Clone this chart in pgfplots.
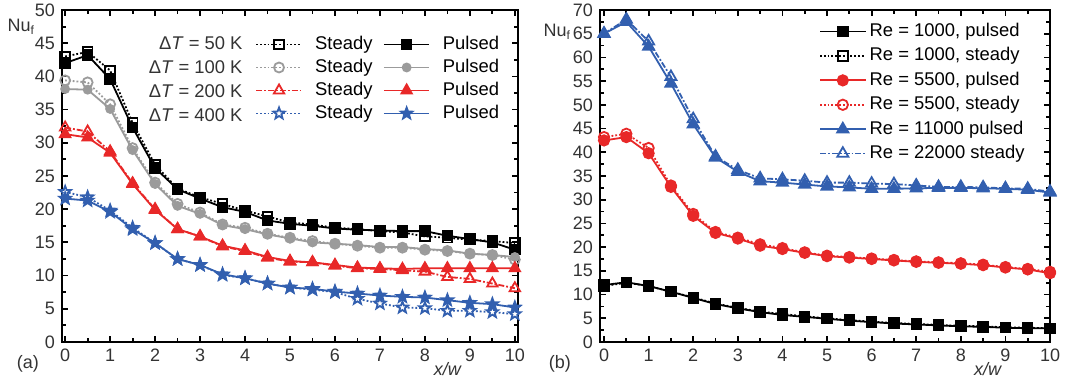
\documentclass[border=0pt]{standalone}
\usepackage{fontspec}
\setmainfont{Liberation Sans}
\usepackage{pgfplots}
\usepackage{pgfplotstable}
\pgfplotsset{compat=1.18}
\definecolor{cgray}{RGB}{155,155,155}
\definecolor{cred}{RGB}{232,40,40}
\definecolor{cblue}{RGB}{50,95,175}

\pgfdeclareplotmark{fstar}{%
  \pgfpathmoveto{\pgfpointpolar{90}{1.2\pgfplotmarksize}}%
  \pgfpathlineto{\pgfpointpolar{126}{0.5\pgfplotmarksize}}%
  \pgfpathlineto{\pgfpointpolar{162}{1.2\pgfplotmarksize}}%
  \pgfpathlineto{\pgfpointpolar{198}{0.5\pgfplotmarksize}}%
  \pgfpathlineto{\pgfpointpolar{234}{1.2\pgfplotmarksize}}%
  \pgfpathlineto{\pgfpointpolar{270}{0.5\pgfplotmarksize}}%
  \pgfpathlineto{\pgfpointpolar{306}{1.2\pgfplotmarksize}}%
  \pgfpathlineto{\pgfpointpolar{342}{0.5\pgfplotmarksize}}%
  \pgfpathlineto{\pgfpointpolar{18}{1.2\pgfplotmarksize}}%
  \pgfpathlineto{\pgfpointpolar{54}{0.5\pgfplotmarksize}}%
  \pgfpathclose
  \pgfusepathqfillstroke
}

\pgfplotstableread{
x    s50  p50  s100 p100 s200 p200 s400 p400
0    43.0 42.0 39.4 38.1 32.3 31.3 22.6 21.6
0.5  43.7 43.2 39.1 38.0 31.7 30.8 21.8 21.3
1    40.9 39.6 35.8 35.1 28.7 28.5 19.8 19.6
1.5  33.0 32.3 29.2 28.9 23.9 23.8 17.2 17.0
2    26.7 26.2 24.0 23.8 20.0 19.9 14.9 14.9
2.5  23.1 23.0 20.8 20.5 17.0 17.0 12.5 12.5
3    21.8 21.6 19.5 19.3 15.9 15.9 11.6 11.6
3.5  20.8 20.3 17.7 17.6 14.4 14.5 10.1 10.2
4    19.8 19.6 17.2 17.0 13.7 13.8 9.6  9.6
4.5  18.9 18.3 16.3 16.2 12.7 12.8 8.8  8.8
5    18.0 17.8 15.7 15.6 12.1 12.2 8.2  8.2
5.5  17.7 17.5 15.2 15.0 12.0 12.0 7.9  8.0
6    17.2 17.1 14.8 14.8 11.5 11.6 7.5  7.6
6.5  17.0 16.9 14.5 14.6 11.1 11.2 6.5  7.3
7    16.7 16.8 14.2 14.3 11.0 11.1 5.8  7.0
7.5  16.5 16.7 14.2 14.3 10.8 11.0 5.2  6.8
8    15.9 16.7 13.9 14.0 10.6 11.1 5.1  6.7
8.5  15.7 16.0 13.7 13.8 9.8  11.1 4.7  6.3
9    15.4 15.5 13.3 13.3 9.5  11.1 4.7  5.9
9.5  15.2 15.0 13.1 13.1 8.8  11.1 4.5  5.7
10   14.9 13.9 12.4 12.8 8.1  11.1 4.2  5.2
}\leftdata

\pgfplotstableread{
x    p1000 s1000 p5500 s5500 p11000 s22000
0    12.0  11.8  42.5  43.2  65.0   65.0
0.5  12.6  12.5  43.2  43.9  67.5   68.0
1    11.8  11.8  39.8  40.9  62.3   63.4
1.5  10.6  10.6  32.7  33.0  54.5   55.9
2    9.3   9.4   26.6  27.0  45.9   47.0
2.5  8.0   8.1   23.0  23.2  38.9   39.1
3    7.1   7.2   21.8  22.0  35.9   36.3
3.5  6.3   6.4   20.3  20.6  33.9   34.5
4    5.7   5.9   19.6  19.8  33.6   34.3
4.5  5.3   5.4   18.8  18.9  33.2   34.0
5    4.9   5.0   18.1  18.2  32.8   33.6
5.5  4.5   4.6   17.8  17.9  32.6   33.6
6    4.2   4.3   17.5  17.6  32.3   33.4
6.5  3.9   4.0   17.2  17.3  32.3   33.3
7    3.7   3.8   16.9  17.0  32.4   33.0
7.5  3.5   3.6   16.7  16.8  32.5   32.7
8    3.3   3.4   16.5  16.6  32.5   32.7
8.5  3.2   3.3   16.2  16.3  32.4   32.6
9    3.0   3.1   15.7  15.8  32.3   32.4
9.5  2.9   3.0   15.3  15.4  32.1   32.3
10   2.9   2.9   14.5  14.8  31.5   31.7
}\rightdata

\pgfplotsset{
  panel/.style={
    scale only axis, height=166pt, ymin=0,
    xtick={0,...,10}, minor x tick num=1, minor y tick num=1,
    tick align=inside, major tick length=3pt, minor tick length=2pt,
    axis line style={line width=1.2pt},
    tick style={black, line width=0.9pt},
    tick label style={font=\fontsize{9}{10}\selectfont, text=black!80},
    /pgf/number format/assume math mode=true,
    clip=false,
    legend cell align=left,
    legend style={draw=none, fill=none, font=\fontsize{9.2}{10}\selectfont,
      row sep=0pt},
    legend image code/.code={\draw[mark repeat=2,mark phase=2]
      plot coordinates {(0cm,0cm) (0.4cm,0cm) (0.8cm,0cm)};},
    every axis plot/.append style={line width=0.9pt},
  },
  open/.style={mark options={solid, fill=white, line width=0.9pt}},
  filled/.style={mark options={solid, line width=0.9pt}},
}

\begin{document}
\begin{tikzpicture}
\begin{axis}[panel, at={(31pt,18pt)}, width=228pt,
  xmin=-0.07, xmax=10.07, ymax=50, ytick={0,5,...,50},
  legend columns=2,
  legend style={at={(rel axis cs:0.978,0.944)}, anchor=north east,
    nodes={inner sep=1.25pt, text height=7pt, text depth=2pt},
    /tikz/every odd column/.append style={column sep=5pt},
    /tikz/every even column/.append style={column sep=4pt}},
]
\addplot[color=black, densely dotted, mark=square, mark size=2.4pt, open] table[y=s50] {\leftdata};
\addlegendentry{Steady}
\addplot[color=black, solid, mark=square*, mark size=2.4pt, filled] table[y=p50] {\leftdata};
\addlegendentry{Pulsed}
\addplot[color=cgray, densely dotted, mark=o, mark size=2.5pt, open] table[y=s100] {\leftdata};
\addlegendentry{Steady}
\addplot[color=cgray, solid, mark=*, mark size=2pt, filled] table[y=p100] {\leftdata};
\addlegendentry{Pulsed}
\addplot[color=cred, densely dashdotted, mark=triangle, mark size=3pt, open] table[y=s200] {\leftdata};
\addlegendentry{Steady}
\addplot[color=cred, solid, mark=triangle*, mark size=3pt, filled] table[y=p200] {\leftdata};
\addlegendentry{Pulsed}
\addplot[color=cblue, densely dotted, mark=fstar, mark size=2.5pt, open] table[y=s400] {\leftdata};
\addlegendentry{Steady}
\addplot[color=cblue, solid, mark=fstar, mark size=2.5pt, filled] table[y=p400] {\leftdata};
\addlegendentry{Pulsed}
\node[anchor=east, font=\fontsize{9.2}{10}\selectfont, text=black!80] at (axis cs:4.1,45.0) {Δ\textit{T} = 50 K};
\node[anchor=east, font=\fontsize{9.2}{10}\selectfont, text=black!80] at (axis cs:4.1,41.4) {Δ\textit{T} = 100 K};
\node[anchor=east, font=\fontsize{9.2}{10}\selectfont, text=black!80] at (axis cs:4.1,37.8) {Δ\textit{T} = 200 K};
\node[anchor=east, font=\fontsize{9.2}{10}\selectfont, text=black!80] at (axis cs:4.1,34.2) {Δ\textit{T} = 400 K};
\node[anchor=east, font=\fontsize{9}{10}\selectfont, text=black!80] at (rel axis cs:0,0.949) [xshift=-10pt] {Nu\textsubscript{f}};
\node[anchor=north east, font=\fontsize{9}{10}\selectfont, text=black!80] at (rel axis cs:0,0) [xshift=-8pt, yshift=-3pt] {(a)};
\node[anchor=north, inner sep=0pt, font=\fontsize{9}{10}\selectfont\itshape, text=black!80] at (axis cs:8.5,0) [yshift=-10pt] {x/w};
\end{axis}

\begin{axis}[panel, at={(300pt,18pt)}, width=225pt,
  xmin=-0.09, xmax=10, ymax=70, ytick={0,5,...,70},
  legend style={at={(rel axis cs:0.965,0.985)}, anchor=north east,
    nodes={inner sep=1.6pt, text height=7pt, text depth=2pt}},
]
\addplot[color=black, solid, mark=square*, mark size=2.4pt, filled] table[y=p1000] {\rightdata};
\addlegendentry{Re = 1000, pulsed}
\addplot[color=black, densely dotted, mark=square, mark size=2.4pt, open] table[y=s1000] {\rightdata};
\addlegendentry{Re = 1000, steady}
\addplot[color=cred, solid, mark=*, mark size=2.6pt, filled] table[y=p5500] {\rightdata};
\addlegendentry{Re = 5500, pulsed}
\addplot[color=cred, densely dotted, mark=o, mark size=2.6pt, open] table[y=s5500] {\rightdata};
\addlegendentry{Re = 5500, steady}
\addplot[color=cblue, solid, mark=triangle*, mark size=3.2pt, filled] table[y=p11000] {\rightdata};
\addlegendentry{Re = 11000 pulsed}
\addplot[color=cblue, densely dashdotted, mark=triangle, mark size=3.2pt, open] table[y=s22000] {\rightdata};
\addlegendentry{Re = 22000 steady}
\node[anchor=east, font=\fontsize{9}{10}\selectfont, text=black!80] at (rel axis cs:0,0.934) [xshift=-11pt] {Nu\textsubscript{f}};
\node[anchor=north east, font=\fontsize{9}{10}\selectfont, text=black!80] at (rel axis cs:0,0) [xshift=-11pt, yshift=-3pt] {(b)};
\node[anchor=north, inner sep=0pt, font=\fontsize{9}{10}\selectfont\itshape, text=black!80] at (axis cs:8.6,0) [yshift=-10pt] {x/w};
\end{axis}
\pgfresetboundingbox
\useasboundingbox (0,0) rectangle (534pt,189pt);
\end{tikzpicture}
\end{document}
